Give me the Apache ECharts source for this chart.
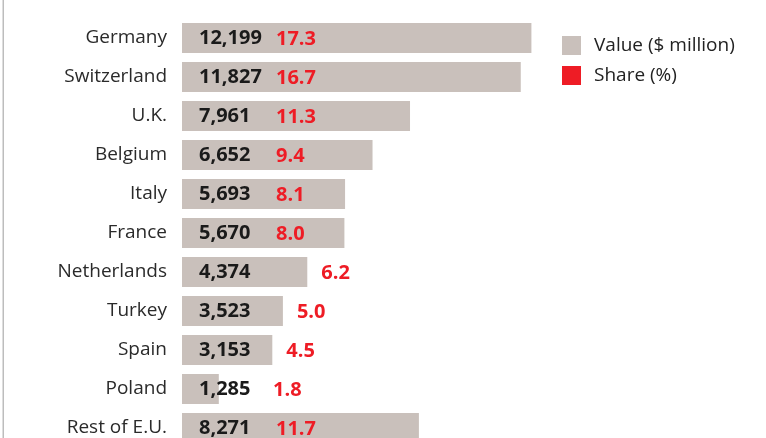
<!DOCTYPE html>
<html>
<head>
<meta charset="utf-8">
<script src="https://cdn.jsdelivr.net/npm/echarts@6/dist/echarts.min.js"></script>
<style>
  html, body { margin: 0; padding: 0; background: #fff; }
  #chart { width: 766px; height: 438px; }
</style>
</head>
<body>
<div id="chart"></div>
<script>
// 数据
const countries = ['Germany', 'Switzerland', 'U.K.', 'Belgium', 'Italy', 'France',
  'Netherlands', 'Turkey', 'Spain', 'Poland', 'Rest of E.U.']
const values = [12199, 11827, 7961, 6652, 5693, 5670, 4374, 3523, 3153, 1285, 8271]
const shares = [17.3, 16.7, 11.3, 9.4, 8.1, 8.0, 6.2, 5.0, 4.5, 1.8, 11.7]

const barColor = '#c9c0bb'
const red = '#ee1c25'
const fontFamily = 'Open Sans, Lato, sans-serif'

const chart = echarts.init(document.getElementById('chart'))

const option = {
  animation: false,
  graphic: [{
    type: 'rect',
    shape: { x: 2.5, y: 0, width: 1.5, height: 438 },
    style: { fill: '#bdbdbd' }
  }],
  legend: {
    orient: 'vertical',
    left: 562,
    top: 36,
    padding: 0,
    itemWidth: 19,
    itemHeight: 19,
    itemGap: 11,
    icon: 'rect',
    textStyle: { fontSize: 19, color: '#222', fontFamily, padding: [0, 0, 0, 8] },
    data: [
      { name: 'Value ($ million)', itemStyle: { color: barColor } },
      { name: 'Share (%)', itemStyle: { color: red } }
    ]
  },
  // 类目轴不留边距，首尾类目正好落在网格上下边
  grid: { left: 182, top: 38, width: 401, height: 390 },
  xAxis: {
    type: 'value',
    min: 0,
    max: 14000,
    show: false
  },
  yAxis: {
    type: 'category',
    data: countries,
    inverse: true,
    boundaryGap: false,
    axisLine: { show: false },
    axisTick: { show: false },
    splitLine: { show: false },
    axisLabel: { fontSize: 19, color: '#2a2a2a', margin: 15, fontFamily }
  },
  series: [
    {
      name: 'Value ($ million)',
      type: 'bar',
      data: values,
      barWidth: 30,
      clip: false,
      itemStyle: { color: barColor },
      label: {
        show: true,
        position: 'insideLeft',
        distance: 17,
        fontSize: 20,
        fontWeight: 'bold',
        color: '#1a1a1a',
        fontFamily,
        formatter: p => p.value.toLocaleString('en-US')
      }
    },
    {
      name: 'Share (%)',
      type: 'custom',
      z: 10,
      clip: false,
      itemStyle: { color: red },
      encode: { x: 0, y: 1 },
      data: values.map((v, i) => [v, i, shares[i]]),
      renderItem: (params, api) => {
        const start = api.coord([0, api.value(1)])
        const end = api.coord([api.value(0), api.value(1)])
        const column = start[0] + 94
        // 柱子够长就放在柱内，否则放到柱子右边
        const x = end[0] >= column + 50 ? column : Math.max(end[0] + 14, column - 3)
        return {
          type: 'text',
          x: x,
          y: end[1] + 1,
          style: {
            text: shares[params.dataIndex].toFixed(1),
            fill: red,
            fontSize: 20,
            fontWeight: 'bold',
            fontFamily,
            verticalAlign: 'middle',
            align: 'left'
          }
        }
      }
    }
  ]
}

chart.setOption(option)
</script>
</body>
</html>
